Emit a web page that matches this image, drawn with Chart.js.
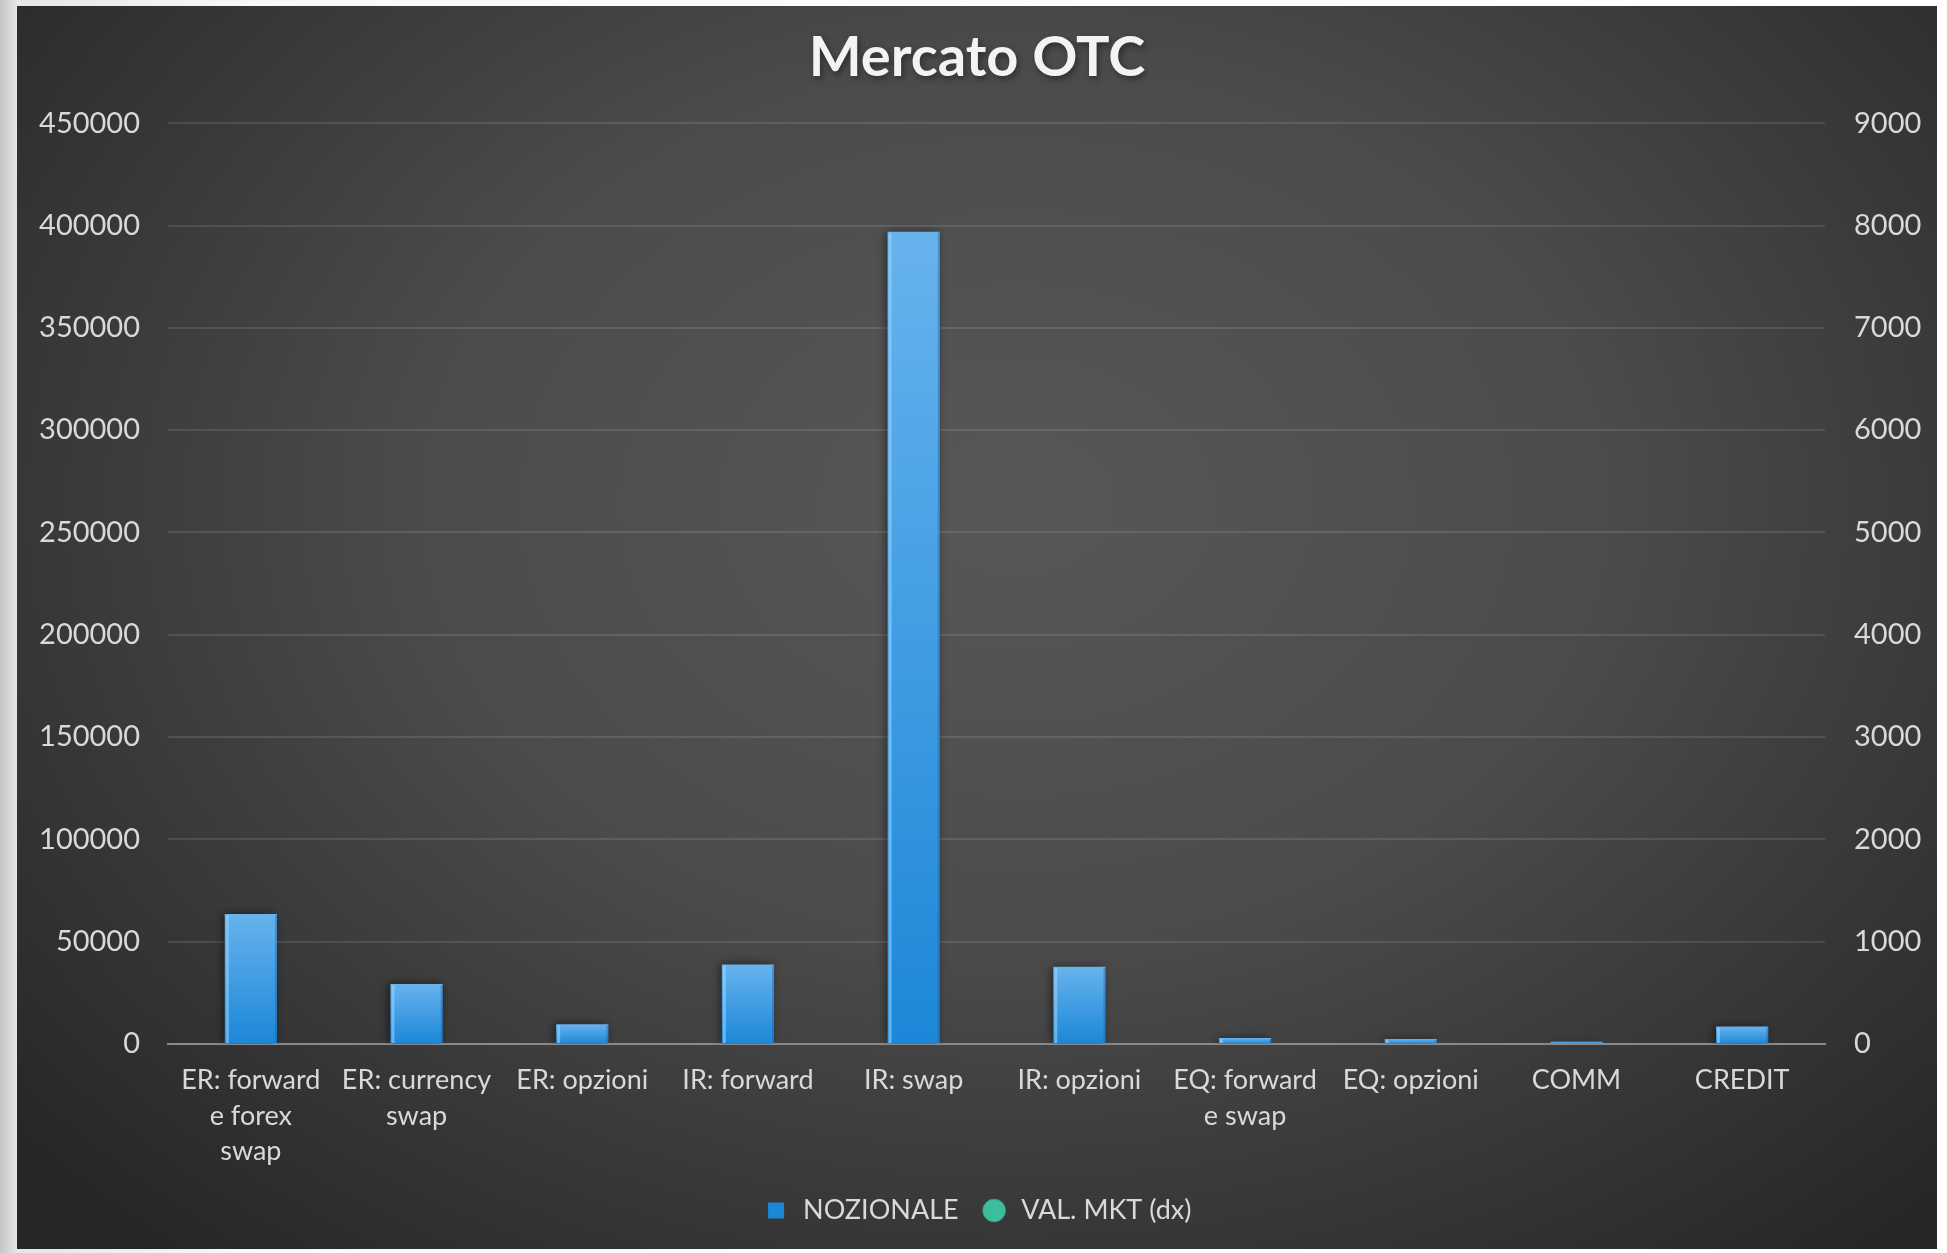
<!DOCTYPE html>
<html>
<head>
<meta charset="utf-8">
<script src="https://cdn.jsdelivr.net/npm/chart.js@4.4.1/dist/chart.umd.min.js"></script>
<style>
  html, body { margin: 0; padding: 0; width: 1947px; height: 1253px; overflow: hidden;
    background: linear-gradient(to right, #c4c4c4 0px, #e6e6e6 17px, #f8f8f8 250px, #ffffff 100%); }
  #wrap { position: absolute; left: 17px; top: 6px; width: 1920px; height: 1243px; }
</style>
</head>
<body>
<div id="wrap"><canvas id="c" width="1920" height="1243"></canvas></div>
<script>
// Categories (multi-line labels as arrays)
const categories = [
  ["ER: forward", "e forex", "swap"],
  ["ER: currency", "swap"],
  "ER: opzioni",
  "IR: forward",
  "IR: swap",
  "IR: opzioni",
  ["EQ: forward", "e swap"],
  "EQ: opzioni",
  "COMM",
  "CREDIT"
];
// Notional amounts (left axis)
const nozionale = [63500, 29300, 9700, 38900, 397000, 37700, 2900, 2400, 1100, 8500];
// Market values (right axis, "dx")
const valMkt = [null, null, null, null, null, null, null, null, null, null];

const titleText = "Mercato OTC";
const seriesNames = ["NOZIONALE", "VAL. MKT (dx)"];
const leftAxis = { min: 0, max: 450000, step: 50000 };
const rightAxis = { min: 0, max: 9000, step: 1000 };

const FONT = "Lato, 'DejaVu Sans', sans-serif";
const TEXT = "#d9d9d9";

// Dark panel background + title drop shadow
const panelBackground = {
  id: 'panelBackground',
  beforeDraw(chart) {
    const { ctx, width, height } = chart;
    ctx.save();
    const cx = width * 0.52, cy = height * 0.40;
    ctx.translate(cx, cy);
    ctx.scale(1.35, 1);
    const g = ctx.createRadialGradient(0, 0, 0, 0, 0, 980);
    g.addColorStop(0, '#575757');
    g.addColorStop(0.45, '#4b4b4b');
    g.addColorStop(1, '#262626');
    ctx.fillStyle = g;
    ctx.fillRect(-cx / 1.35 - 10, -cy - 10, width / 1.35 + 20, height + 20);
    ctx.restore();

    const tb = chart.titleBlock;
    if (tb && tb.options.display) {
      const f = Chart.helpers.toFont(tb.options.font);
      const pad = Chart.helpers.toPadding(tb.options.padding);
      const y = tb.top + pad.top + f.lineHeight / 2;
      const x = (tb.left + tb.right) / 2;
      ctx.save();
      ctx.font = f.string;
      ctx.textAlign = 'center';
      ctx.textBaseline = 'middle';
      ctx.shadowColor = 'rgba(0,0,0,0.75)';
      ctx.shadowBlur = 6;
      ctx.shadowOffsetX = 2;
      ctx.shadowOffsetY = 3;
      ctx.fillStyle = 'rgba(0,0,0,0.55)';
      ctx.fillText(titleText, x, y);
      ctx.restore();
    }
  }
};

// Soft shadow behind the bars and a light stripe on their left edge
const barEffects = {
  id: 'barEffects',
  beforeDatasetDraw(chart, args) {
    if (args.index !== 0) return;
    const ctx = chart.ctx;
    ctx.save();
    ctx.shadowColor = 'rgba(0,0,0,0.55)';
    ctx.shadowBlur = 9;
    ctx.shadowOffsetX = -2;
    ctx.shadowOffsetY = 0;
  },
  afterDatasetDraw(chart, args) {
    if (args.index !== 0) return;
    const ctx = chart.ctx;
    ctx.restore();
    ctx.save();
    args.meta.data.forEach(bar => {
      const h = bar.base - bar.y;
      if (h < 3) return;
      const left = bar.x - bar.width / 2;
      ctx.fillStyle = 'rgba(160,215,255,0.55)';
      ctx.fillRect(left + 1, bar.y + 1, 3, h - 1);
      ctx.fillStyle = 'rgba(20,90,160,0.35)';
      ctx.fillRect(left + bar.width - 2, bar.y + 1, 2, h - 1);
    });
    ctx.restore();
  }
};

const leftWidth = 151, rightWidth = 112;
const bottomPad = 15;

new Chart(document.getElementById('c'), {
  data: {
    labels: categories,
    datasets: [
      {
        type: 'bar',
        label: seriesNames[0],
        data: nozionale,
        yAxisID: 'y',
        barPercentage: 0.315,
        categoryPercentage: 1.0,
        pointStyle: 'rect',
        backgroundColor: (c) => {
          const chart = c.chart;
          if (c.type !== 'data' || !chart.chartArea) return '#2f93e0';
          const ys = chart.scales.y;
          const top = ys.getPixelForValue(c.parsed.y);
          const base = ys.getPixelForValue(0);
          if (!isFinite(top) || base - top < 2) return '#4aa6ea';
          const g = chart.ctx.createLinearGradient(0, top, 0, base);
          g.addColorStop(0, '#67b3ed');
          g.addColorStop(1, '#1c87d8');
          return g;
        },
        borderWidth: 0
      },
      {
        type: 'line',
        label: seriesNames[1],
        data: valMkt,
        yAxisID: 'y1',
        showLine: false,
        pointStyle: 'circle',
        pointRadius: 8,
        pointBackgroundColor: '#3dbd9c',
        pointBorderColor: '#2fa487',
        borderColor: '#3dbd9c',
        backgroundColor: '#3dbd9c'
      }
    ]
  },
  options: {
    responsive: false,
    animation: false,
    devicePixelRatio: 1,
    layout: { padding: { left: 0, right: 0, top: 0, bottom: bottomPad } },
    plugins: {
      title: {
        display: true,
        text: titleText,
        color: '#f3f3f3',
        font: { family: FONT, size: 56, weight: 'bold', lineHeight: 1.2 },
        padding: { top: 18, bottom: 32 }
      },
      legend: {
        display: true,
        position: 'bottom',
        labels: {
          color: TEXT,
          font: { family: FONT, size: 27 },
          usePointStyle: true,
          boxHeight: 16,
          padding: 22
        }
      },
      tooltip: { enabled: false }
    },
    scales: {
      x: {
        grid: { display: false, drawTicks: false },
        border: { display: true, color: '#8a8a8a', width: 2 },
        ticks: {
          color: TEXT,
          font: { family: FONT, size: 27, lineHeight: 1.31 },
          padding: 19,
          maxRotation: 0,
          autoSkip: false
        },
        afterFit(scale) { scale.height = 131; }
      },
      y: {
        position: 'left',
        min: leftAxis.min,
        max: leftAxis.max,
        ticks: {
          stepSize: leftAxis.step,
          color: TEXT,
          font: { family: FONT, size: 29 },
          padding: 28,
          callback: (v) => String(v)
        },
        grid: { color: 'rgba(255,255,255,0.11)', lineWidth: 2, drawTicks: false },
        border: { display: false },
        afterFit(scale) { scale.width = leftWidth; }
      },
      y1: {
        position: 'right',
        min: rightAxis.min,
        max: rightAxis.max,
        ticks: {
          stepSize: rightAxis.step,
          color: TEXT,
          font: { family: FONT, size: 29 },
          padding: 29,
          callback: (v) => String(v)
        },
        grid: { display: false, drawTicks: false },
        border: { display: false },
        afterFit(scale) { scale.width = rightWidth; }
      }
    }
  },
  plugins: [panelBackground, barEffects]
});
</script>
</body>
</html>
